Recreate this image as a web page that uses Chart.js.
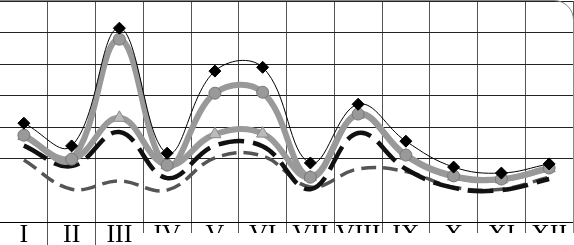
<!DOCTYPE html>
<html>
<head>
<meta charset="utf-8">
<script src="https://cdn.jsdelivr.net/npm/chart.js@4"></script>
<style>
  html, body { margin: 0; padding: 0; background: #fff; }
  #frame { position: relative; width: 574px; height: 245px; overflow: hidden; }
  #wrap { position: absolute; left: 0; top: 0; width: 574px; height: 261px; }
  #edge {
    position: absolute; left: -10px; top: 0; width: 584px; height: 300px;
    border: 1px solid #888; border-top-right-radius: 20px; box-sizing: border-box;
    pointer-events: none;
  }
  /* the lower right strip of the original is blank */
  #mask { position: absolute; left: 141px; top: 233px; width: 440px; height: 20px; background: #fff; }
</style>
</head>
<body>
<div id="frame">
  <div id="wrap"><canvas id="chart"></canvas></div>
  <div id="edge"></div>
  <div id="mask"></div>
</div>
<script>
// month labels (roman numerals)
const months = ['I', 'II', 'III', 'IV', 'V', 'VI', 'VII', 'VIII', 'IX', 'X', 'XI', 'XII'];

// values
const diamondSeries   = [3.13, 2.41, 6.14, 2.18, 4.78, 4.90, 1.87, 3.73, 2.56, 1.74, 1.55, 1.84];
const circleSeries    = [2.75, 1.99, 5.79, 1.80, 4.08, 4.11, 1.42, 3.42, 2.12, 1.46, 1.36, 1.71];
const triangleSeries  = [2.72, 1.99, 3.30, 1.80, 2.78, 2.80, 1.42, 3.40, 2.10, 1.44, 1.35, 1.70];
const blackDashSeries = [2.42, 1.77, 2.85, 1.39, 2.42, 2.40, 1.04, 2.82, 1.68, 1.08, 1.01, 1.36];
const grayDashSeries  = [1.96, 1.04, 1.30, 1.01, 2.03, 2.09, 1.11, 1.68, 1.60, 1.10, 1.04, 1.42];

const ctx = document.getElementById('chart').getContext('2d');
const chart = new Chart(ctx, {
  type: 'line',
  data: {
    labels: months,
    datasets: [
      {
        data: diamondSeries,
        borderColor: '#000',
        borderWidth: 1,
        pointStyle: 'rectRot',
        pointRadius: 6,
        pointBackgroundColor: '#000',
        pointBorderColor: '#000',
        tension: 0.4
      },
      {
        data: circleSeries,
        borderColor: '#999',
        borderWidth: 6,
        pointStyle: 'circle',
        pointRadius: 6,
        pointBackgroundColor: '#999',
        pointBorderColor: '#777',
        pointBorderWidth: 1,
        tension: 0.4
      },
      {
        data: triangleSeries,
        borderColor: '#9a9a9a',
        borderWidth: 6,
        pointStyle: 'triangle',
        pointRadius: 7,
        pointBackgroundColor: '#bbb',
        pointBorderColor: '#888',
        pointBorderWidth: 1,
        tension: 0.4
      },
      {
        data: blackDashSeries,
        borderColor: '#111',
        borderWidth: 4.5,
        borderDash: [26, 9],
        pointRadius: 0,
        tension: 0.4
      },
      {
        data: grayDashSeries,
        borderColor: '#555',
        borderWidth: 3.5,
        borderDash: [15, 7],
        pointRadius: 0,
        tension: 0.4
      }
    ]
  },
  options: {
    responsive: true,
    maintainAspectRatio: false,
    animation: false,
    layout: { autoPadding: false, padding: { top: 1, right: 1, left: 0, bottom: 0 } },
    plugins: { legend: { display: false }, tooltip: { enabled: false } },
    scales: {
      x: {
        offset: true,
        grid: {
          offset: true,
          color: function(c) { return c.index === 0 ? 'rgba(0,0,0,0)' : '#555'; },
          tickLength: 30
        },
        border: { color: '#000', width: 1 },
        ticks: {
          color: '#000',
          padding: -32,
          autoSkip: false,
          maxRotation: 0,
          minRotation: 0,
          font: { family: 'Liberation Serif', size: 26 }
        },
        afterFit: function(scale) {
          scale.height = 39;
          scale.paddingLeft = 0;
          scale.paddingRight = 0;
        }
      },
      y: {
        min: 0,
        max: 7,
        ticks: { display: false, stepSize: 1 },
        border: { display: false },
        grid: {
          drawTicks: false,
          color: function(c) { return c.tick && c.tick.value === 1 ? 'rgba(0,0,0,0)' : '#222'; }
        },
        afterFit: function(scale) { scale.width = 0; }
      }
    }
  }
});
</script>
</body>
</html>
